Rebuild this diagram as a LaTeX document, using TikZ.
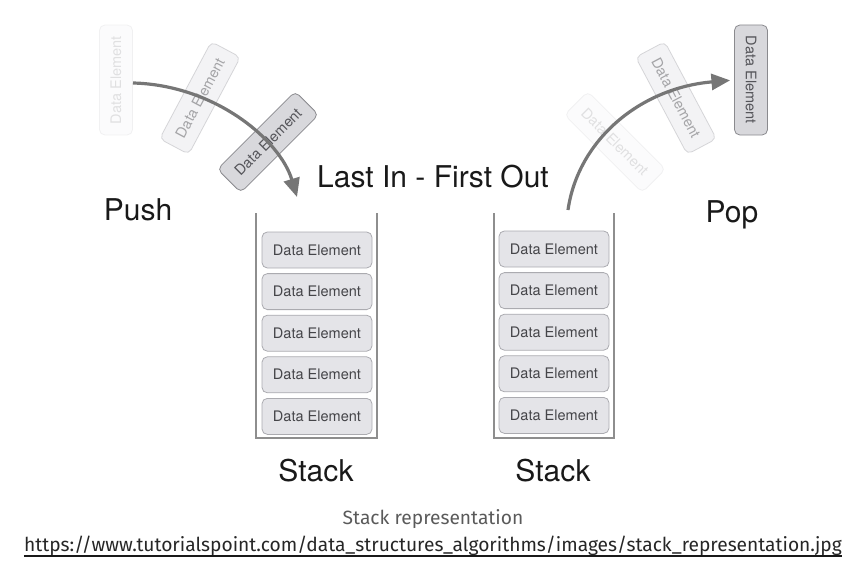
\documentclass[tikz,border=0pt]{standalone}
\usepackage{fontspec}
\setmainfont{TeX Gyre Heros}
\newfontfamily\capfont{Fira Sans}
\usetikzlibrary{positioning,arrows.meta}
\definecolor{boxfill}{HTML}{E4E4E8}
\definecolor{boxline}{HTML}{ABABB0}
\definecolor{boxtext}{HTML}{454549}
\definecolor{liftfill}{HTML}{D8D8DC}
\definecolor{liftline}{HTML}{8A8A8E}
\definecolor{lifttext}{HTML}{55555A}
\definecolor{wallgray}{HTML}{8E8E8E}
\definecolor{arrowgray}{HTML}{767676}
\definecolor{capgray}{HTML}{5A5A5A}
\tikzset{
  elem/.style={draw=boxline, fill=boxfill, rounded corners=4pt, line width=0.6pt,
    minimum width=82.5pt, minimum height=27pt, inner sep=0pt, text=boxtext,
    font=\fontsize{10.9}{12}\selectfont},
  flying/.style={elem, minimum height=24.75pt},
  lifted/.style={flying, fill=liftfill, draw=liftline, text=lifttext},
  wall/.style={draw=wallgray, line width=1.2pt},
  move/.style={draw=arrowgray, line width=2.4pt, -{Triangle[length=14pt,width=12pt]}},
  big/.style={font=\fontsize{22.5}{26}\selectfont, text=black!90, anchor=base}
}
\begin{document}
\begin{tikzpicture}[x=0.75pt,y=-0.75pt]
\useasboundingbox (0,0) rectangle (862,585);
% left stack
\node[elem] (l1) at (317,250) {Data Element};
\node[elem, below=3.6pt of l1] (l2) {Data Element};
\node[elem, below=3.6pt of l2] (l3) {Data Element};
\node[elem, below=3.6pt of l3] (l4) {Data Element};
\node[elem, below=3.6pt of l4] (l5) {Data Element};
\draw[wall] (256,213) -- (256,438) -- (377,438) -- (377,213);
% right stack
\node[elem] (r1) at (554,249) {Data Element};
\node[elem, below=3.6pt of r1] (r2) {Data Element};
\node[elem, below=3.6pt of r2] (r3) {Data Element};
\node[elem, below=3.6pt of r3] (r4) {Data Element};
\node[elem, below=3.6pt of r4] (r5) {Data Element};
\draw[wall] (494,213) -- (494,438) -- (614,438) -- (614,213);
% push
\node[flying, rotate=90, opacity=0.15] (pa) at (116,80) {Data Element};
\node[flying, rotate=62, opacity=0.45] (pb) at (200,98) {Data Element};
\node[lifted, rotate=45] (pc) at (268,142) {Data Element};
\coordinate (pushin) at (297,197);
\draw[move] (133,83) .. controls (215,85) and (280,140) .. (pushin);
% pop
\node[flying, rotate=-45, opacity=0.15] (qa) at (615,142) {Data Element};
\node[flying, rotate=-62, opacity=0.45] (qb) at (676,98) {Data Element};
\node[lifted, rotate=-90] (qc) at (751,80) {Data Element};
\coordinate (popout) at (568,210);
\draw[move, shorten >=3pt] (popout) .. controls (578,140) and (640,88) .. (qc.south);
% labels
\node[big] (lifo) at (433,187) {Last In - First Out};
\node[big] (push) at (138,220) {Push};
\node[big] (pop) at (732,222) {Pop};
\node[big] (ls) at (316,481) {Stack};
\node[big] (rs) at (553,481) {Stack};
% caption
\node[font=\capfont\fontsize{14.4}{16}\selectfont, text=capgray] (cap) at (433,519) {Stack representation};
\node[font=\capfont\fontsize{14.4}{16}\selectfont, text=black!85, inner sep=0pt] (url) at (433,546)
  {https://www.tutorialspoint.com/data\_structures\_algorithms/images/stack\_representation.jpg};
\draw[line width=1.2pt, black!90] (url.south west) -- (url.south east);
\end{tikzpicture}
\end{document}
